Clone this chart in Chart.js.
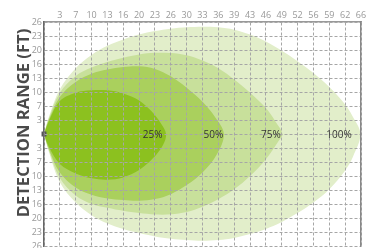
<!DOCTYPE html>
<html>
<head>
<meta charset="utf-8">
<script src="https://cdn.jsdelivr.net/npm/chart.js@4.4.1/dist/chart.umd.min.js"></script>
<style>
  html, body { margin: 0; padding: 0; background: #fff; overflow: hidden; }
</style>
</head>
<body>
<canvas id="chart" width="366" height="252"></canvas>
<script>
// tick labels in feet, one per metre
const xFeetLabels = ['3', '7', '10', '13', '16', '20', '23', '26', '30', '33',
                     '36', '39', '43', '46', '49', '52', '56', '59', '62', '66'];
const yFeetLabels = ['3', '7', '10', '13', '16', '20', '23', '26'];
const axisTitle = 'DETECTION RANGE (FT)';

// detection zones (metres), upper and lower outline from the sensor to the tip
const zone25Top = [[0, 0], [0.3, 0.9], [1, 2.35], [2, 2.95], [3, 3.12], [4, 3.12], [5, 2.9], [6, 2.4], [6.8, 1.6], [7.35, 0.8], [7.7, 0]];
const zone25Bottom = [[0, 0], [0.3, -0.9], [1, -2.15], [2, -2.82], [3, -3.16], [4, -3.26], [5, -3.1], [6, -2.58], [6.9, -1.7], [7.5, -0.8], [7.75, 0]];
const zone50Top = [[0, 0], [0.3, 1.0], [1, 2.65], [2, 3.72], [3, 4.3], [4, 4.6], [5, 4.78], [6, 4.84], [7, 4.65], [8, 4.12], [9, 3.3], [10, 2.3], [10.8, 1.2], [11.35, 0]];
const zone50Bottom = [[0, 0], [0.3, -1.05], [1, -2.75], [2, -3.82], [3, -4.34], [4, -4.6], [5, -4.72], [6, -4.77], [7, -4.65], [8, -4.3], [9, -3.65], [10, -2.75], [10.9, -1.46], [11.45, 0]];
const zone75Top = [[0, 0], [0.3, 1.1], [1, 2.95], [2, 4.15], [3, 4.75], [4, 5.15], [5, 5.45], [6, 5.68], [7, 5.8], [8, 5.78], [9, 5.62], [10, 5.25], [11, 4.7], [12, 3.9], [13, 2.95], [14, 1.85], [14.6, 0.9], [15.05, 0]];
const zone75Bottom = [[0, 0], [0.3, -1.15], [1, -3.15], [2, -4.4], [3, -5.0], [4, -5.27], [5, -5.49], [6, -5.65], [7, -5.75], [8, -5.74], [9, -5.58], [10, -5.2], [11, -4.66], [12, -3.95], [13, -3.0], [14, -1.8], [14.8, -0.5], [15.05, 0]];
const zone100Top = [[0, 0], [0.3, 1.2], [1, 3.2], [2, 4.7], [3, 5.65], [4, 6.3], [5, 6.75], [6, 7.1], [7, 7.35], [8, 7.52], [9, 7.62], [10, 7.66], [11, 7.62], [12, 7.45], [13, 7.1], [14, 6.6], [15, 5.95], [16, 5.2], [17, 4.35], [18, 3.35], [19, 2.1], [19.45, 1.3], [19.96, 0]];
const zone100Bottom = [[0, 0], [0.3, -1.25], [1, -3.45], [2, -4.9], [3, -5.8], [4, -6.4], [5, -6.79], [6, -7.08], [7, -7.32], [8, -7.48], [9, -7.58], [10, -7.63], [11, -7.58], [12, -7.42], [13, -7.15], [14, -6.78], [15, -6.28], [16, -5.65], [17, -4.9], [18, -3.95], [19, -2.6], [19.5, -1.6], [19.96, 0]];

const zoneLabels = ['25%', '50%', '75%', '100%'];
const zoneLabelX = [6.85, 10.69, 14.32, 18.61];

// outline = upper edge out to the tip, lower edge back to the sensor
function outline(top, bottom) {
    const pts = top.map(p => ({x: p[0], y: p[1]}));
    const back = bottom.slice(0, -1).reverse().map(p => ({x: p[0], y: p[1]}));
    return pts.concat(back);
}

function zone(label, top, bottom, color) {
    return {
        label: label,
        data: outline(top, bottom),
        showLine: true,
        fill: 'shape',
        backgroundColor: color,
        borderWidth: 0,
        pointRadius: 0,
        tension: 0.35
    };
}

// rotated side title
const sideTitle = {
    id: 'sideTitle',
    afterDraw(chart) {
        const ctx = chart.ctx;
        const area = chart.chartArea;
        ctx.save();
        ctx.translate(area.left - 20, (area.top + area.bottom) / 2 - 11);
        ctx.rotate(-Math.PI / 2);
        ctx.font = 'bold 16.6px "Open Sans"';
        ctx.fillStyle = '#4a4a4a';
        ctx.textAlign = 'center';
        ctx.textBaseline = 'middle';
        ctx.fillText(axisTitle, 0, 0);
        ctx.restore();
    }
};

// percentage labels along the centre line
const zoneText = {
    id: 'zoneText',
    afterDraw(chart) {
        const ctx = chart.ctx;
        const xs = chart.scales.x;
        const ys = chart.scales.y;
        ctx.save();
        ctx.font = '10px "Open Sans"';
        ctx.fillStyle = '#333';
        ctx.textAlign = 'center';
        ctx.textBaseline = 'middle';
        zoneLabels.forEach((t, i) => {
            ctx.fillText(t, xs.getPixelForValue(zoneLabelX[i]), ys.getPixelForValue(0) + 1);
        });
        ctx.restore();
    }
};

Chart.defaults.font.family = '"Open Sans", sans-serif';

new Chart(document.getElementById('chart'), {
    type: 'scatter',
    data: {
        datasets: [
            {
                label: 'sensor',
                data: [{x: 0, y: 0}],
                pointStyle: 'rect',
                pointRadius: 3.5,
                backgroundColor: '#555',
                borderWidth: 0,
                clip: false
            },
            zone('25%', zone25Top, zone25Bottom, '#8cc11f'),
            zone('50%', zone50Top, zone50Bottom, '#aad05d'),
            zone('75%', zone75Top, zone75Bottom, '#c8e09b'),
            zone('100%', zone100Top, zone100Bottom, '#e2eeca')
        ]
    },
    options: {
        responsive: false,
        animation: false,
        devicePixelRatio: 1,
        layout: {padding: {left: 0, top: 0, right: 5, bottom: 6}},
        plugins: {
            legend: {display: false},
            tooltip: {enabled: false}
        },
        scales: {
            x: {
                type: 'linear',
                position: 'top',
                min: 0,
                max: 20,
                afterFit(axis) {
                    axis.height = 22;
                    axis.paddingLeft = 0;
                    axis.paddingRight = 0;
                },
                ticks: {
                    stepSize: 1,
                    maxTicksLimit: 30,
                    autoSkip: false,
                    maxRotation: 0,
                    padding: 1,
                    color: '#999',
                    font: {size: 9},
                    callback: (v) => xFeetLabels[v - 1] || ''
                },
                grid: {color: '#a6a6a6', drawTicks: false, z: 1},
                border: {color: '#999', width: 1.5, dash: [3, 2], z: 1}
            },
            y: {
                type: 'linear',
                min: -8,
                max: 8,
                afterFit(axis) {
                    axis.width = 44;
                    axis.paddingTop = 0;
                    axis.paddingBottom = 0;
                },
                ticks: {
                    stepSize: 1,
                    maxTicksLimit: 30,
                    autoSkip: false,
                    padding: 2,
                    color: '#999',
                    font: {size: 9},
                    callback: (v) => v === 0 ? '' : yFeetLabels[Math.abs(v) - 1]
                },
                grid: {color: '#a6a6a6', drawTicks: false, z: 1},
                border: {color: '#666', width: 1.5, dash: [3, 2], z: 1}
            },
            yRight: {
                type: 'linear',
                position: 'right',
                ticks: {display: false},
                grid: {drawOnChartArea: false, drawTicks: false},
                border: {color: '#888', width: 1.5, z: 1}
            }
        }
    },
    plugins: [sideTitle, zoneText]
});
</script>
</body>
</html>
